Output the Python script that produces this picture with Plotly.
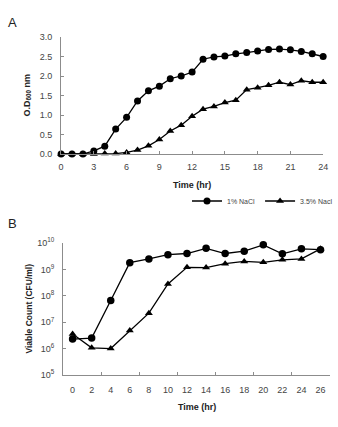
import plotly.graph_objects as go

# Panel A data: OD600 vs time (hr)
time_a = list(range(0, 25))
od_1pct = [0.0, 0.0, 0.0, 0.08, 0.2, 0.64, 0.94, 1.36, 1.62, 1.74, 1.93, 2.0, 2.1,
           2.43, 2.49, 2.51, 2.57, 2.6, 2.64, 2.68, 2.69, 2.67, 2.63, 2.57, 2.5]
od_35pct = [0.0, 0.0, 0.0, 0.0, 0.01, 0.01, 0.04, 0.1, 0.21, 0.37, 0.59, 0.74, 0.97,
            1.15, 1.22, 1.32, 1.38, 1.65, 1.7, 1.76, 1.84, 1.78, 1.88, 1.84, 1.84]

# Panel B data: viable count (CFU/ml) vs time (hr)
time_b = list(range(0, 27, 2))
cfu_1pct = [2.3e6, 2.5e6, 6.6e7, 1.8e9, 2.5e9, 3.6e9, 4.0e9, 6.3e9, 4.0e9, 4.9e9,
            8.5e9, 3.9e9, 6.0e9, 5.6e9]
cfu_35pct = [3.6e6, 1.07e6, 1.0e6, 4.8e6, 2.2e7, 2.8e8, 1.2e9, 1.17e9, 1.65e9, 2.0e9,
             1.85e9, 2.3e9, 2.5e9, 6.0e9]

series_names = ["1% NaCl", "3.5% Nacl"]
xticks_a = list(range(0, 25, 3))
yticks_a = [0.0, 0.5, 1.0, 1.5, 2.0, 2.5, 3.0]
xticks_b = list(range(0, 27, 2))
yticks_b = [1e5, 1e6, 1e7, 1e8, 1e9, 1e10]
yticks_b_text = ["10<sup>5</sup>", "10<sup>6</sup>", "10<sup>7</sup>", "10<sup>8</sup>",
                 "10<sup>9</sup>", "10<sup>10</sup>"]

W, H = 338, 427
def px(x):
    return x / W
def py(y):
    return 1 - y / H

FONT = "Liberation Sans, Arial, sans-serif"
AX = "#8c8c8c"
TXT = "#444444"

fig = go.Figure()
line = dict(color="black", width=1.3)
fig.add_trace(go.Scatter(x=time_a, y=od_1pct, mode="lines+markers", name=series_names[0],
                         line=line, marker=dict(symbol="circle", size=7, color="black"),
                         cliponaxis=False, xaxis="x", yaxis="y"))
fig.add_trace(go.Scatter(x=time_a, y=od_35pct, mode="lines+markers", name=series_names[1],
                         line=line, marker=dict(symbol="triangle-up", size=7, color="black"),
                         cliponaxis=False, xaxis="x", yaxis="y"))
fig.add_trace(go.Scatter(x=time_b, y=cfu_1pct, mode="lines+markers", showlegend=False,
                         line=line, marker=dict(symbol="circle", size=7.5, color="black"),
                         cliponaxis=False, xaxis="x2", yaxis="y2"))
fig.add_trace(go.Scatter(x=time_b, y=cfu_35pct, mode="lines+markers", showlegend=False,
                         line=line, marker=dict(symbol="triangle-up", size=7, color="black"),
                         cliponaxis=False, xaxis="x2", yaxis="y2"))

tickfont = dict(family=FONT, size=9, color=TXT)
common = dict(showgrid=False, zeroline=False, showline=True, linecolor=AX, linewidth=1,
              ticks="inside", ticklen=3, tickcolor=AX, tickfont=tickfont, automargin=False)

fig.update_layout(
    width=W, height=H, margin=dict(l=0, r=0, t=0, b=0),
    paper_bgcolor="white", plot_bgcolor="white",
    xaxis=dict(domain=[px(62), px(328)], range=[0, 24], tickvals=xticks_a,
               anchor="y", ticklabelstandoff=4, **common),
    yaxis=dict(domain=[py(154), py(37)], range=[0, 3], tickvals=yticks_a,
               tickformat=".1f", anchor="x", ticklabelstandoff=6, **common),
    xaxis2=dict(domain=[px(64), px(335)], range=[-1, 27], tickvals=xticks_b,
                anchor="y2", ticklabelstandoff=6,
                minor=dict(tick0=-1, dtick=4, ticks="inside", ticklen=3, tickcolor=AX, showgrid=False),
                **{**common, "ticklen": 0}),
    yaxis2=dict(domain=[py(375), py(243)], type="log", range=[5, 10], tickvals=yticks_b,
                ticktext=yticks_b_text, anchor="x2", ticklabelstandoff=6, **common),
    legend=dict(orientation="h", x=px(190), y=py(201), xanchor="left", yanchor="middle",
                font=dict(family=FONT, size=7, color=TXT), itemwidth=30,
                bgcolor="rgba(0,0,0,0)", tracegroupgap=0),
    showlegend=True,
)

ann = [
    dict(text="A", x=px(6), y=py(22), font=dict(family=FONT, size=13, color="#222")),
    dict(text="B", x=px(6), y=py(223), font=dict(family=FONT, size=13, color="#222")),
    dict(text="<b>Time (hr)</b>", x=px(195), y=py(185), font=dict(family=FONT, size=9, color="#222")),
    dict(text="<b>Time (hr)</b>", x=px(200), y=py(407), font=dict(family=FONT, size=9, color="#222")),
    dict(text="<b>O.D<sub>600</sub> nm</b>", x=px(27), y=py(95), textangle=-90,
         font=dict(family=FONT, size=9, color="#222")),
    dict(text="<b>Viable Count (CFU/ml)</b>", x=px(29), y=py(309), textangle=-90,
         font=dict(family=FONT, size=8.5, color="#222")),
]
for a in ann:
    a.update(xref="paper", yref="paper", showarrow=False, xanchor="center", yanchor="middle")
    if a["text"] in ("A", "B"):
        a["xanchor"] = "left"
fig.update_layout(annotations=ann)

fig.write_html("out.html")
